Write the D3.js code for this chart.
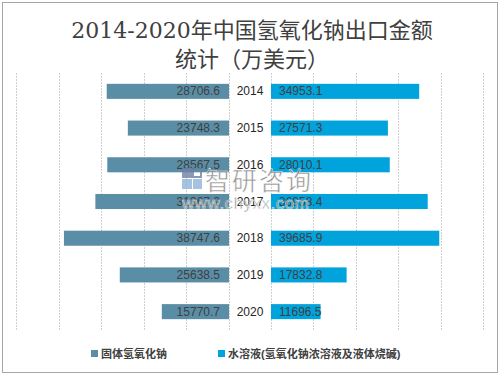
<!DOCTYPE html>
<html>
<head>
<meta charset="utf-8">
<script src="https://cdn.jsdelivr.net/npm/d3@7"></script>
<style>
body { margin: 0; background: #fff; }
text { font-family: "Liberation Sans", "Noto Sans CJK SC", sans-serif; }
</style>
</head>
<body>
<svg id="chart"></svg>
<script>
var years = ["2014", "2015", "2016", "2017", "2018", "2019", "2020"];
var solidValues = [28706.6, 23748.3, 28567.5, 31367.2, 38747.6, 25638.5, 15770.7];
var liquidValues = [34953.1, 27571.3, 28010.1, 36958.4, 39685.9, 17832.8, 11696.5];
var gridTicks = [0, 10000, 20000, 30000, 40000, 50000];
var seriesNames = ["固体氢氧化钠", "水溶液(氢氧化钠浓溶液及液体烧碱)"];
var seriesColors = ["#5a8ea6", "#00a3db"];

var width = 501;
var height = 377;

var svg = d3.select("#chart")
    .attr("width", width)
    .attr("height", height);

// outer frame
svg.append("rect")
    .attr("x", 2.5).attr("y", 2.5)
    .attr("width", 495).attr("height", 370)
    .attr("fill", "#fff")
    .attr("stroke", "#a6a6a6")
    .attr("stroke-width", 1);

// title
var title = svg.append("text")
    .attr("text-anchor", "middle")
    .attr("fill", "#404040")
    .style("font-family", "'DejaVu Serif', 'Noto Sans CJK SC', serif")
    .style("font-size", "22px");
title.append("tspan").attr("x", 252).attr("y", 38).text("2014-2020年中国氢氧化钠出口金额");
title.append("tspan").attr("x", 252).attr("y", 67).text("统计（万美元）");

var yScale = d3.scaleBand()
    .domain(years)
    .range([73, 330])
    .paddingInner(0.59)
    .paddingOuter(0.295);

var xLeft = d3.scaleLinear().domain([0, 50000]).range([229, 16]);
var xRight = d3.scaleLinear().domain([0, 50000]).range([271, 483]);

// gridlines
var grid = svg.append("g");
[xLeft, xRight].forEach(function (sc) {
    grid.selectAll(null)
        .data(gridTicks)
        .enter()
        .append("line")
        .attr("x1", d => Math.round(sc(d)) + 0.5)
        .attr("x2", d => Math.round(sc(d)) + 0.5)
        .attr("y1", 73)
        .attr("y2", 330)
        .attr("stroke", "#d0d0d0")
        .attr("stroke-dasharray", "2,1");
});

// left bars
svg.append("g").selectAll("rect")
    .data(years)
    .enter()
    .append("rect")
    .attr("x", (d, i) => xLeft(solidValues[i]))
    .attr("y", d => yScale(d))
    .attr("width", (d, i) => xLeft(0) - xLeft(solidValues[i]))
    .attr("height", yScale.bandwidth())
    .attr("fill", seriesColors[0]);

// right bars
svg.append("g").selectAll("rect")
    .data(years)
    .enter()
    .append("rect")
    .attr("x", xRight(0))
    .attr("y", d => yScale(d))
    .attr("width", (d, i) => xRight(liquidValues[i]) - xRight(0))
    .attr("height", yScale.bandwidth())
    .attr("fill", seriesColors[1]);

var mid = d => yScale(d) + yScale.bandwidth() / 2 + 4;

// value labels
svg.append("g").selectAll("text")
    .data(years)
    .enter()
    .append("text")
    .attr("x", xLeft(0) - 9)
    .attr("y", mid)
    .attr("text-anchor", "end")
    .attr("fill", "#404040")
    .style("font-size", "12px")
    .text((d, i) => solidValues[i].toFixed(1));

svg.append("g").selectAll("text")
    .data(years)
    .enter()
    .append("text")
    .attr("x", xRight(0) + 8)
    .attr("y", mid)
    .attr("fill", "#404040")
    .style("font-size", "12px")
    .text((d, i) => liquidValues[i].toFixed(1));

// year labels
svg.append("g").selectAll("text")
    .data(years)
    .enter()
    .append("text")
    .attr("x", 250)
    .attr("y", mid)
    .attr("text-anchor", "middle")
    .attr("fill", "#262626")
    .style("font-size", "12px")
    .text(d => d);

// legend
var legend = svg.append("g");
var legendX = [91, 218];
seriesNames.forEach(function (name, i) {
    legend.append("rect")
        .attr("x", legendX[i]).attr("y", 350)
        .attr("width", 7).attr("height", 7)
        .attr("fill", seriesColors[i]);
    legend.append("text")
        .attr("x", legendX[i] + 10).attr("y", 358)
        .attr("fill", "#404040")
        .style("font-size", "11px")
        .style("font-weight", "bold")
        .text(name);
});

// watermark
var wm = svg.append("g").attr("opacity", 0.8);
wm.append("rect").attr("x", 182).attr("y", 168).attr("width", 10).attr("height", 10).attr("fill", "#7082a6");
wm.append("rect").attr("x", 193).attr("y", 169).attr("width", 8).attr("height", 8).attr("fill", "none").attr("stroke", "#7082a6").attr("stroke-width", 2);
wm.append("rect").attr("x", 182).attr("y", 179).attr("width", 10).attr("height", 10).attr("fill", "#8fb3d9");
wm.append("rect").attr("x", 193).attr("y", 179).attr("width", 9).attr("height", 10).attr("fill", "#8fb3d9");
wm.append("text")
    .attr("x", 205).attr("y", 190)
    .attr("fill", "#7a7a7a")
    .attr("stroke", "#fff").attr("stroke-width", 0.5)
    .style("font-size", "25px")
    .style("letter-spacing", "2px")
    .text("智研咨询");
wm.append("text")
    .attr("x", 182).attr("y", 209)
    .attr("fill", "#7a7a7a")
    .attr("stroke", "#fff").attr("stroke-width", 0.5)
    .style("font-size", "17px")
    .style("letter-spacing", "0.5px")
    .text("www.chyxx.com");
</script>
</body>
</html>
